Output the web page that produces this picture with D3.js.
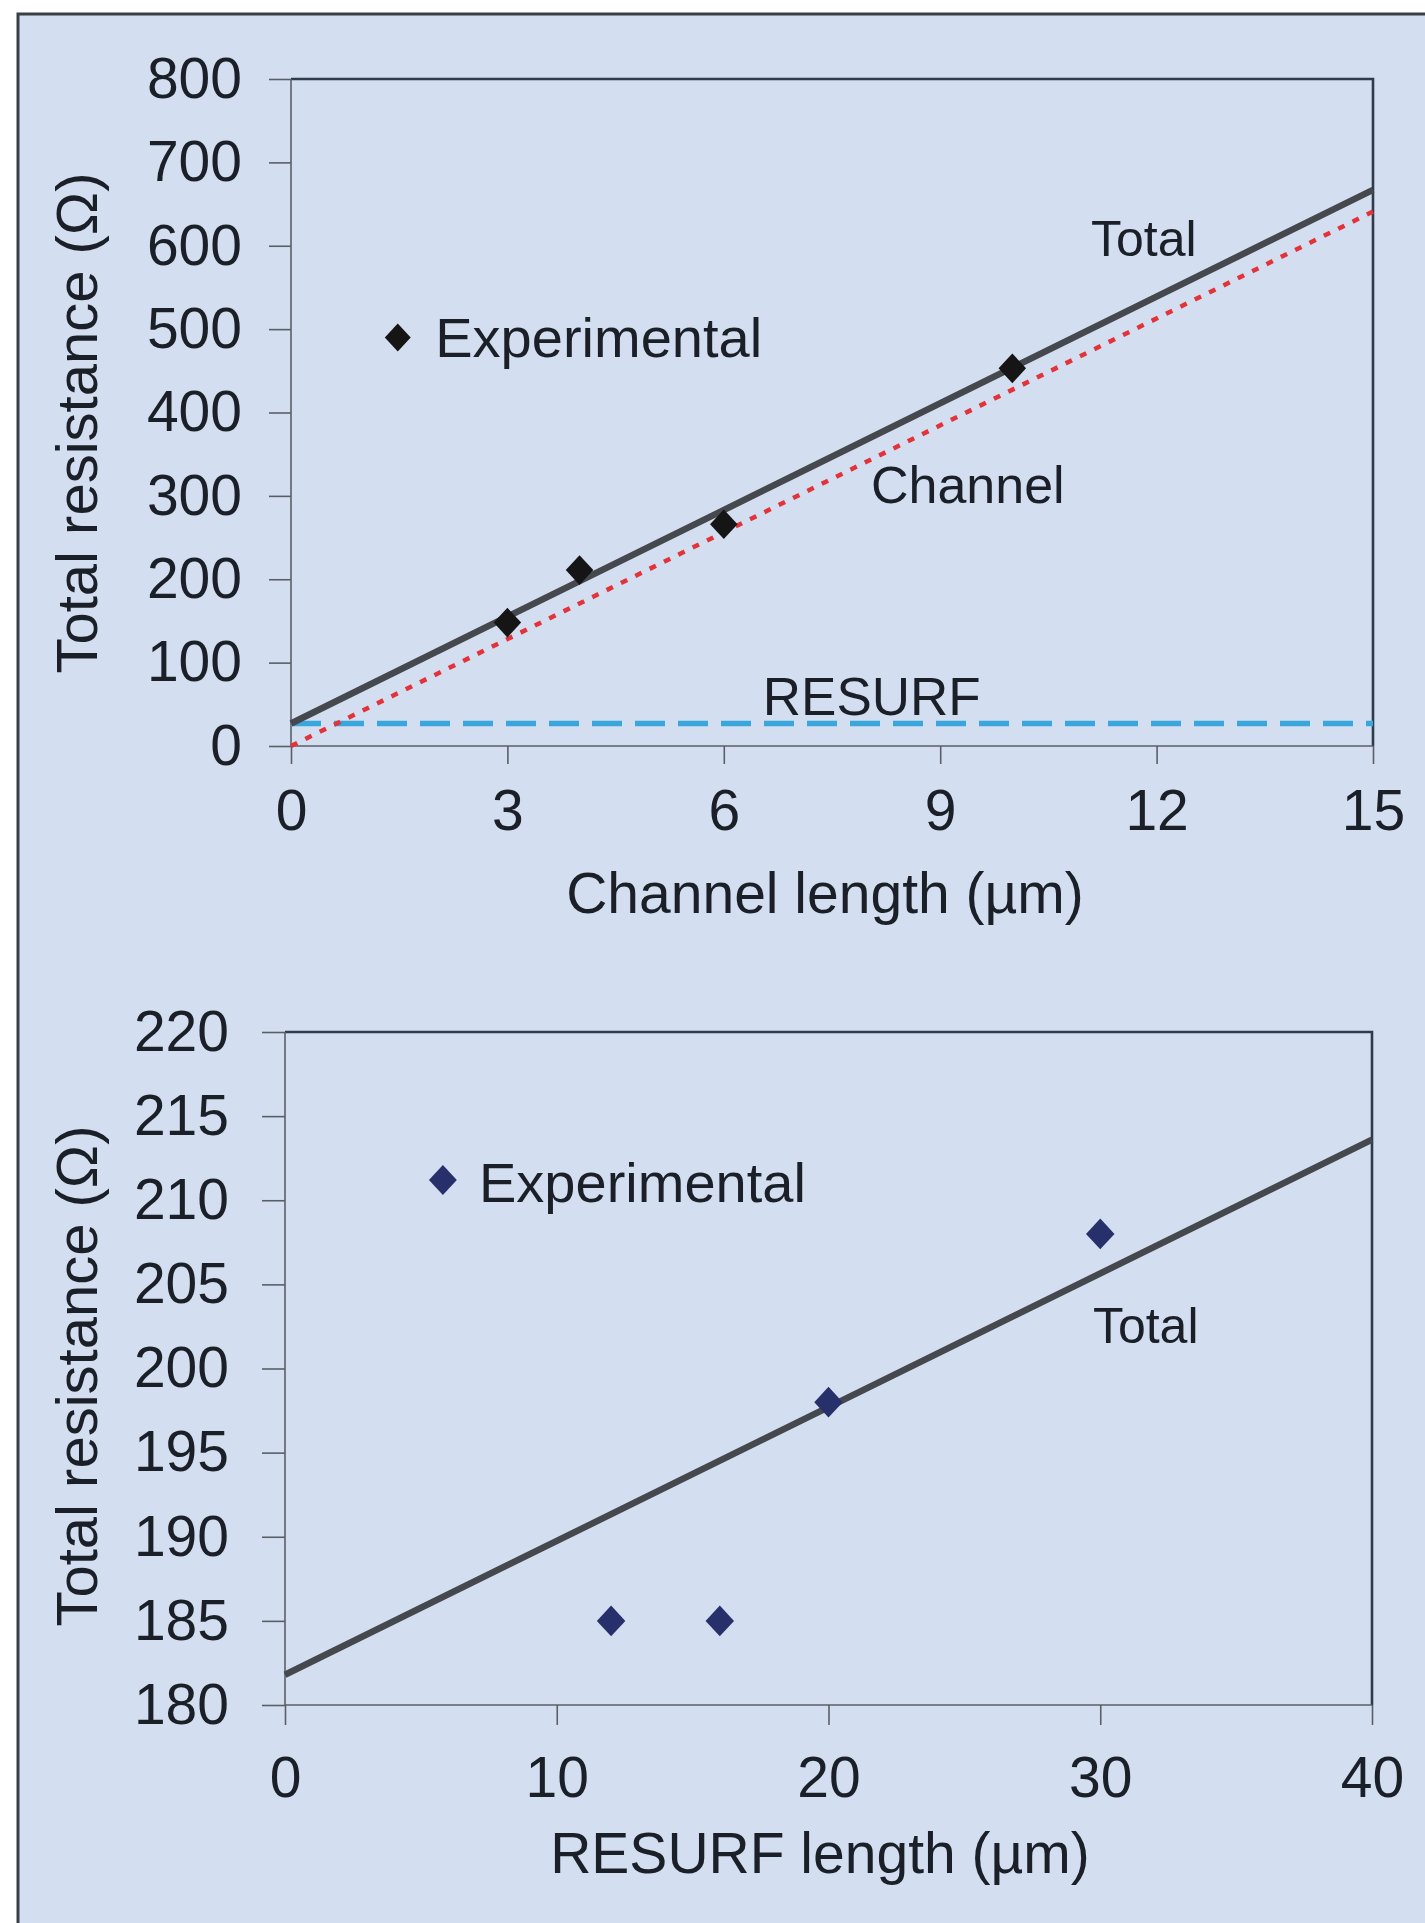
<!DOCTYPE html>
<html>
<head>
<meta charset="utf-8" />
<title>Total resistance</title>
<style type="text/css">
  html, body { margin: 0; background: #fff; }
  svg { display: block; font-family: "Liberation Sans", Arial, sans-serif; }
  .axis path { display: none; }
  .axis line { stroke: #5a5f66; stroke-width: 1.6px; }
  .axis text { fill: #1b1f27; font-size: 57px; }
  .lbl { fill: #1b1f27; }
</style>
</head>
<body>
<div id="container"></div>
<script src="https://cdn.jsdelivr.net/npm/d3@7/dist/d3.min.js"></script>
<script>
// top chart: total resistance vs channel length
var chLenTicks = [0, 3, 6, 9, 12, 15];
var chResTicks = [0, 100, 200, 300, 400, 500, 600, 700, 800];
var chExpLen = [3, 4, 6, 10];
var chExpRes = [148, 211, 266, 453];
var chTotal = [[0, 27], [15, 667]];
var chChannel = [[0, 0], [15, 641]];
var chResurf = [[0, 27], [15, 27]];

// bottom chart: total resistance vs RESURF length
var rsLenTicks = [0, 10, 20, 30, 40];
var rsResTicks = [180, 185, 190, 195, 200, 205, 210, 215, 220];
var rsExpLen = [12, 16, 20, 30];
var rsExpRes = [185, 185, 198, 208];
var rsTotal = [[0, 181.8], [40, 213.6]];

var W = 1425, H = 1923;

var svg = d3.select("#container").append("svg")
    .attr("width", W)
    .attr("height", H);

// panel background and frame
svg.append("rect")
    .attr("x", 18).attr("y", 14)
    .attr("width", W - 18).attr("height", H - 14)
    .attr("fill", "#d3dff0");
svg.append("path")
    .attr("d", "M18," + H + "V14H" + W)
    .attr("fill", "none")
    .attr("stroke", "#3a3f46")
    .attr("stroke-width", 3);

// a little square-ish diamond, like the excel marker
var diamond = {
  draw: function(ctx, size) {
    var w = Math.sqrt(size) * 0.52, h = Math.sqrt(size) * 0.56;
    ctx.moveTo(0, -h);
    ctx.lineTo(w, 0);
    ctx.lineTo(0, h);
    ctx.lineTo(-w, 0);
    ctx.closePath();
  }
};

function frame(g, x, y) {
  var x0 = x.range()[0], x1 = x.range()[1];
  var y0 = y.range()[0], y1 = y.range()[1];
  g.append("path")
      .attr("d", "M" + x0 + "," + y1 + "H" + x1 + "V" + y0)
      .attr("fill", "none")
      .attr("stroke", "#2f3a4a")
      .attr("stroke-width", 2.6);
  g.append("line")
      .attr("x1", x0).attr("x2", x0).attr("y1", y0).attr("y2", y1)
      .attr("stroke", "#5a5f66").attr("stroke-width", 1.6);
  g.append("line")
      .attr("x1", x0).attr("x2", x1).attr("y1", y0).attr("y2", y0)
      .attr("stroke", "#5a5f66").attr("stroke-width", 1.6);
}

function axes(g, x, y, xt, yt, o) {
  g.append("g")
      .attr("class", "axis")
      .attr("transform", "translate(0," + y.range()[0] + ")")
      .call(d3.axisBottom(x).tickValues(xt).tickSize(o.xTick).tickPadding(o.xPad));
  g.append("g")
      .attr("class", "axis")
      .attr("transform", "translate(" + x.range()[0] + ",0)")
      .call(d3.axisLeft(y).tickValues(yt).tickSize(o.yTick).tickPadding(o.yPad));
}

function label(g, x, y, px, py, txt, size) {
  g.append("text")
      .attr("class", "lbl")
      .attr("x", x(px)).attr("y", y(py))
      .attr("font-size", size)
      .text(txt);
}

function titles(g, xTitle, xCenter, xBase, yCenter) {
  g.append("text")
      .attr("class", "lbl")
      .attr("text-anchor", "middle")
      .attr("x", xCenter).attr("y", xBase)
      .attr("font-size", 57)
      .text(xTitle);
  g.append("text")
      .attr("class", "lbl")
      .attr("text-anchor", "middle")
      .attr("transform", "translate(97," + yCenter + ") rotate(-90)")
      .attr("font-size", 58)
      .text("Total resistance (\u03a9)");
}

// ---- top chart
var x1 = d3.scaleLinear().domain([0, 15]).range([291, 1373]);
var y1 = d3.scaleLinear().domain([0, 800]).range([746, 79]);
var g1 = svg.append("g");

frame(g1, x1, y1);
axes(g1, x1, y1, chLenTicks, chResTicks, { xTick: 18, xPad: 26, yTick: 22, yPad: 27 });

var line1 = d3.line().x(function(d) { return x1(d[0]); }).y(function(d) { return y1(d[1]); });

g1.append("path").datum(chResurf)
    .attr("d", line1)
    .attr("fill", "none")
    .attr("stroke", "#3aa6dc")
    .attr("stroke-width", 5.5)
    .attr("stroke-dasharray", "30,13");
g1.append("path").datum(chChannel)
    .attr("d", line1)
    .attr("fill", "none")
    .attr("stroke", "#e2333b")
    .attr("stroke-width", 4.5)
    .attr("stroke-dasharray", "7,9");
g1.append("path").datum(chTotal)
    .attr("d", line1)
    .attr("fill", "none")
    .attr("stroke", "#45484c")
    .attr("stroke-width", 6.5);

g1.selectAll(".pt").data(chExpLen)
  .enter().append("path")
    .attr("class", "pt")
    .attr("transform", function(d, i) { return "translate(" + x1(d) + "," + y1(chExpRes[i]) + ")"; })
    .attr("d", d3.symbol(diamond, 700))
    .attr("fill", "#151515");

g1.append("path")
    .attr("transform", "translate(" + x1(1.48) + "," + y1(490) + ")")
    .attr("d", d3.symbol(diamond, 620))
    .attr("fill", "#151515");
label(g1, x1, y1, 2.0, 466, "Experimental", 56);
label(g1, x1, y1, 11.09, 588, "Total", 50);
label(g1, x1, y1, 8.04, 291, "Channel", 52);
label(g1, x1, y1, 6.54, 37, "RESURF", 53);

titles(g1, "Channel length (\u00b5m)", 825, 913, 423);

// ---- bottom chart
var x2 = d3.scaleLinear().domain([0, 40]).range([285, 1372]);
var y2 = d3.scaleLinear().domain([180, 220]).range([1705, 1032]);
var g2 = svg.append("g");

frame(g2, x2, y2);
axes(g2, x2, y2, rsLenTicks, rsResTicks, { xTick: 20, xPad: 32, yTick: 23, yPad: 33 });

var line2 = d3.line().x(function(d) { return x2(d[0]); }).y(function(d) { return y2(d[1]); });

g2.append("path").datum(rsTotal)
    .attr("d", line2)
    .attr("fill", "none")
    .attr("stroke", "#45484c")
    .attr("stroke-width", 6.5);

g2.selectAll(".pt").data(rsExpLen)
  .enter().append("path")
    .attr("class", "pt")
    .attr("transform", function(d, i) { return "translate(" + x2(d) + "," + y2(rsExpRes[i]) + ")"; })
    .attr("d", d3.symbol(diamond, 750))
    .attr("fill", "#28306c");

g2.append("path")
    .attr("transform", "translate(" + x2(5.81) + "," + y2(211.2) + ")")
    .attr("d", d3.symbol(diamond, 720))
    .attr("fill", "#28306c");
label(g2, x2, y2, 7.14, 209.9, "Experimental", 56);
label(g2, x2, y2, 29.73, 201.5, "Total", 50);

titles(g2, "RESURF length (\u00b5m)", 820, 1873, 1376);
</script>
</body>
</html>
